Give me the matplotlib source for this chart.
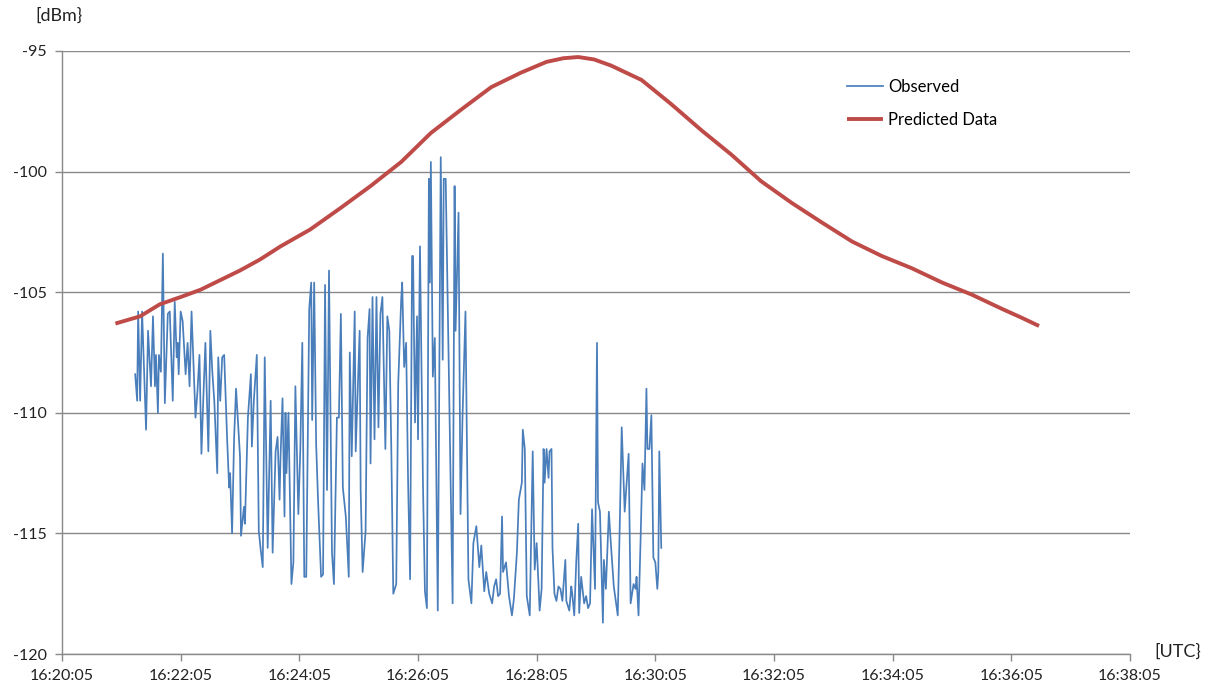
import matplotlib
matplotlib.use("Agg")
import matplotlib.pyplot as plt
import matplotlib.dates as mdates
from datetime import datetime, timedelta

plt.rcParams['font.family'] = ['Lato', 'DejaVu Sans']

# time base (axis start)
base_time = datetime(2000, 1, 1, 16, 20, 5)

# Predicted data: seconds after 16:20:05, dBm
pred_sec = [54, 79, 99, 120, 140, 160, 180, 200, 221, 251, 282, 312, 343, 373, 403, 434,
            464, 490, 507, 522, 538, 555, 586, 616, 647, 677, 707, 738, 768, 799, 829, 859,
            890, 920, 951, 970, 988]
pred_dbm = [-106.3, -106.0, -105.5, -105.2, -104.9, -104.5, -104.1, -103.65, -103.1,
            -102.4, -101.5, -100.6, -99.6, -98.4, -97.45, -96.5, -95.9, -95.45, -95.3,
            -95.25, -95.35, -95.6, -96.2, -97.2, -98.3, -99.3, -100.4, -101.3, -102.1,
            -102.9, -103.5, -104.0, -104.6, -105.1, -105.7, -106.05, -106.4]

# Observed data: seconds after 16:20:05, dBm
obs_sec = [74, 76, 77, 79, 81, 85, 87, 90, 92, 94, 95, 97, 98, 100, 102, 104, 107, 109,
           112, 114, 116, 117, 118, 120, 122, 125, 127, 129, 131, 135, 137, 139, 141, 143,
           145, 148, 150, 152, 154, 157, 158, 160, 162, 164, 167, 169, 170, 172, 174, 176,
           180, 181, 184, 185, 188, 191, 192, 194, 197, 199, 201, 203,
           205, 208, 211, 213, 216, 218, 220, 221, 223, 225, 226, 227, 229, 232, 234, 236,
           239, 241, 243, 245, 247, 250, 252, 253, 255, 257, 259, 262, 264, 266, 268, 270,
           273, 275, 278, 280, 282, 284, 287, 290, 291, 293, 296, 297, 301, 302, 304, 307,
           309, 311, 312, 314, 316, 318, 320, 322, 324, 327, 329, 331, 333, 335,
           338, 340, 343, 344, 346, 348, 350, 352, 354, 355, 357, 359, 360, 362, 365, 367,
           369, 371, 372, 373, 375, 377, 380, 383, 385, 386, 388, 392, 395, 397, 398, 401,
           403, 405, 408, 411, 414, 416, 419, 422, 424, 427, 429, 432, 435, 437, 439, 441,
           443, 445, 446, 449, 452, 455, 457, 460, 462, 465, 466, 468, 470, 473,
           476, 478, 480, 483, 485, 487, 488, 490, 492, 493, 495, 496, 498, 500, 502, 504,
           506, 509, 510, 513, 515, 516, 518, 520, 522, 523, 525, 528, 530, 532, 534, 536,
           539, 541, 542, 544, 547, 548, 550, 553, 555, 558, 562, 564, 566, 569, 570, 573,
           575, 578, 580, 581, 583, 585, 587, 589, 591, 592, 594, 596, 598, 600, 602, 603,
           604, 606]
obs_dbm = [-108.4, -109.5, -105.8, -109.5, -105.8, -110.7, -106.6, -108.9, -106.0, -108.9,
           -107.6, -110.0, -107.6, -108.3, -103.4, -109.6, -105.9, -105.8, -109.5, -105.4,
           -107.7, -107.1, -108.4, -105.8, -106.2, -108.4, -107.1, -108.9, -105.8, -110.2,
           -109.1, -107.6, -111.7, -109.3, -107.1, -111.6, -106.6, -108.3, -109.5, -112.5,
           -107.7, -109.5, -107.7, -107.6, -111.1, -113.1, -112.5, -115.0, -111.1, -109.0,
           -111.8, -115.1, -113.9, -114.6, -110.2, -108.4, -111.4, -109.5, -107.6, -114.9,
           -115.7, -116.4,
           -107.7, -115.6, -109.5, -115.8, -111.6, -111.0, -113.6, -111.8, -109.4, -114.3,
           -110.0, -112.5, -110.0, -117.1, -116.2, -108.9, -114.2, -111.5, -107.1, -116.8,
           -116.8, -105.7, -104.6, -110.3, -104.6, -111.3, -113.7, -116.8, -116.7, -104.7,
           -113.2, -104.1, -115.8, -117.1, -110.2, -110.2, -105.9, -113.1, -114.3, -116.8,
           -107.5, -111.8, -105.8, -111.6, -106.6, -113.2, -116.6, -114.9, -106.9, -105.7,
           -112.1, -105.2, -111.1, -105.2, -110.6, -105.9, -105.2, -111.5, -106.0, -106.6,
           -111.5, -117.5,
           -117.1, -108.8, -105.3, -104.6, -108.1, -107.1, -112.9, -116.9, -103.5, -103.5,
           -110.4, -106.0, -111.1, -103.1, -112.9, -117.4, -118.1, -100.3, -104.6, -99.6,
           -108.5, -106.9, -118.2, -99.4, -107.8, -100.3, -100.3, -110.2, -117.9, -100.6,
           -106.6, -101.7, -114.2, -110.2, -105.8, -116.9, -117.9, -115.4, -114.7, -116.4,
           -115.5, -117.4, -116.6, -117.5, -117.9, -117.2, -116.9, -117.6, -117.5, -114.3,
           -116.6, -116.2, -117.6, -118.4, -117.7, -115.8, -113.6, -112.9, -110.7, -111.5,
           -117.6, -118.4,
           -111.6, -116.5, -115.4, -118.2, -117.3, -111.5, -112.9, -111.5, -112.7, -111.6,
           -111.5, -115.6, -117.5, -117.8, -117.2, -117.3, -117.8, -116.1, -117.8, -118.2,
           -117.2, -117.5, -118.4, -116.2, -114.6, -118.3, -116.8, -117.9, -117.6, -118.1,
           -117.9, -114.0, -117.3, -107.1, -113.7, -114.1, -118.7, -116.1, -117.3, -114.1,
           -115.4, -117.2, -118.4, -114.7, -110.6, -114.1, -113.5, -111.7, -117.9, -117.1,
           -117.3, -116.8, -118.4, -115.4, -112.1, -113.2, -109.0, -111.5, -111.5, -110.1,
           -116.0, -116.2, -117.3, -116.6, -111.6, -115.6]

# axis settings
y_ticks = [-120, -115, -110, -105, -100, -95]
x_tick_minutes = [0, 2, 4, 6, 8, 10, 12, 14, 16, 18]
series_labels = ["Observed", "Predicted Data"]
y_unit = "[dBm}"
x_unit = "[UTC}"

obs_t = [base_time + timedelta(seconds=s) for s in obs_sec]
pred_t = [base_time + timedelta(seconds=s) for s in pred_sec]
x_ticks = [base_time + timedelta(minutes=m) for m in x_tick_minutes]

W, H = 1207, 688
fig = plt.figure(figsize=(W / 100, H / 100), dpi=100)
ax = fig.add_axes([62 / W, 34 / H, 1068 / W, 603 / H])

blue = "#4A7EBB"
red = "#BE4B48"
grid_c = "#898989"

ax.plot(obs_t, obs_dbm, color=blue, lw=1.25, label=series_labels[0], zorder=3)
ax.plot(pred_t, pred_dbm, color=red, lw=2.8, label=series_labels[1], zorder=4,
        solid_capstyle="butt", solid_joinstyle="round")

ax.set_ylim(-120, -95)
ax.set_xlim(x_ticks[0], x_ticks[-1])
ax.set_yticks(y_ticks)
ax.set_yticklabels([str(v) for v in y_ticks])
ax.set_xticks(x_ticks)
ax.xaxis.set_major_formatter(mdates.DateFormatter("%H:%M:%S"))

ax.grid(axis="y", color=grid_c, lw=1.0)
ax.set_axisbelow(True)
for s in ["top", "right"]:
    ax.spines[s].set_visible(False)
for s in ["left", "bottom"]:
    ax.spines[s].set_color(grid_c)
    ax.spines[s].set_linewidth(1.0)
ax.tick_params(axis="both", colors=grid_c, length=5, width=1.0, labelcolor="#222222",
               labelsize=11.5)
ax.tick_params(axis="y", pad=6)
ax.tick_params(axis="x", pad=6)

fig.text(35 / W, 1 - 16 / H, y_unit, fontsize=13, color="#222222", va="center", ha="left")
fig.text(1154 / W, 1 - 652 / H, x_unit, fontsize=13, color="#222222", va="center", ha="left")

leg = ax.legend(loc="upper left", bbox_to_anchor=((840 - 62) / 1068, (654 - 72) / 603),
                frameon=False, fontsize=12, handlelength=2.2, handletextpad=0.3,
                labelspacing=1.05, borderaxespad=0)

fig.savefig("out.png", dpi=100)
